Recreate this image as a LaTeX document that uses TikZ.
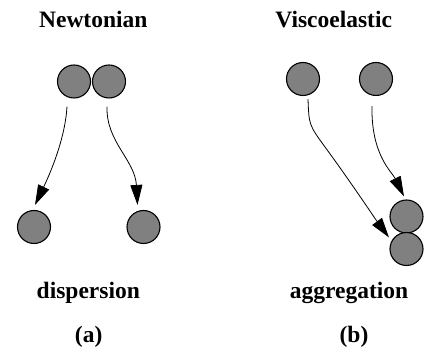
\documentclass[tikz,border=0pt]{standalone}
\usepackage{fontspec}
\setmainfont{Liberation Serif}
\usetikzlibrary{arrows.meta}
\begin{document}
\begin{tikzpicture}[x=1pt,y=-1pt,
  particle/.style={circle,draw=black,line width=1.1pt,fill=black!50,minimum size=33pt,inner sep=0pt},
  path arrow/.style={line width=0.8pt,-{Triangle[length=20pt,width=12pt]}},
  label text/.style={font=\rmfamily\bfseries\fontsize{23.5}{27}\selectfont,anchor=base}]
\useasboundingbox (0,0) rectangle (424,352);

% (a) Newtonian: a touching pair drifts apart
\node[particle] (a1) at (74,81.5) {};
\node[particle] (a2) at (109,81.5) {};
\node[particle] (a3) at (34,227) {};
\node[particle] (a4) at (143.5,227) {};

\draw[path arrow] ([shift={(-7,8)}]a1.south) .. controls (65,142) and (47,180) .. ([shift={(1,-5)}]a3.north);
\draw[path arrow] ([shift={(-2,8)}]a2.south) .. controls (106,142) and (135,160) .. ([shift={(-6,-5)}]a4.north);

% (b) Viscoelastic: a separated pair comes together
\node[particle] (b1) at (303,79) {};
\node[particle] (b2) at (376,79) {};
\node[particle] (b3) at (406.5,216.5) {};
\node[particle] (b4) at (406.5,249) {};

\draw[path arrow] ([shift={(5,3)}]b1.south) .. controls (309,125) .. (325,147)
  .. controls (350,181) and (376,220) .. ([shift={(-17.5,5.5)}]b4.north);
\draw[path arrow] ([shift={(-4,10)}]b2.south) .. controls (371,155) and (392,172) .. ([shift={(-2.5,-3)}]b3.north);

% captions
\node[label text] (tA) at (93.3,28) {Newtonian};
\node[label text] (tB) at (333.7,28) {Viscoelastic};
\node[label text] (dA) at (88.3,299) {dispersion};
\node[label text] (dB) at (349,299) {aggregation};
\node[label text] (pA) at (88.7,343) {(a)};
\node[label text] (pB) at (354,343) {(b)};
\end{tikzpicture}
\end{document}
